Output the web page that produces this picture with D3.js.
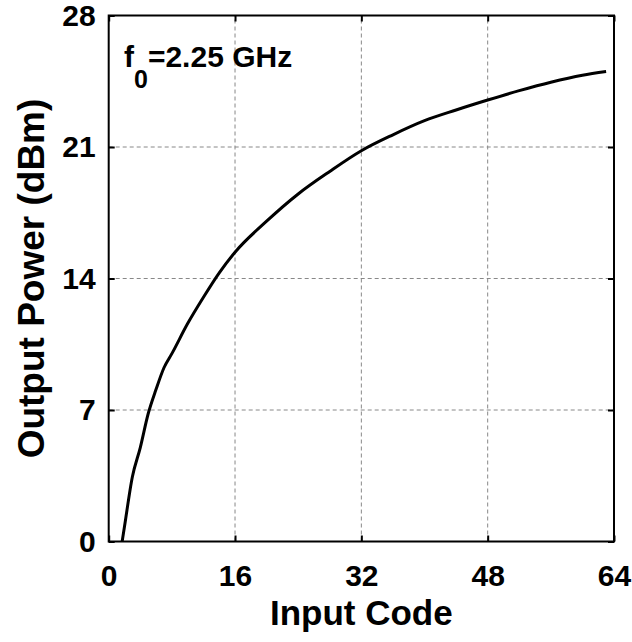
<!DOCTYPE html>
<html lang="en">
<meta charset="UTF-8">
<script src="https://d3js.org/d3.v7.min.js"></script>
<head>
    <title>Output Power vs Input Code</title>
    <style>
        body { margin: 0; background: white; }
        text { font-family: "Liberation Sans", Arial, sans-serif; font-weight: bold; fill: black; }
    </style>
</head>
<body>
<div id="my_dataviz"></div>
<script>
    const width = 632,
        height = 642;
    const margin = {top: 15.5, right: 18, bottom: 100.5, left: 108.7};

    // curve (input code -> dBm)
    const codes = [1, 2, 3, 4, 5, 6, 7, 8, 10, 12, 14, 16, 20, 24, 28, 32, 36, 40, 44, 48, 52, 56, 60, 63];
    const power = [-1.9, 0.8, 3.45, 5.0, 6.8, 8.1, 9.25, 10.0, 11.6, 13.0, 14.3, 15.4, 17.05, 18.5, 19.7, 20.8, 21.65, 22.4, 22.97, 23.5, 24.0, 24.45, 24.82, 25.02];
    const xTicks = [0, 16, 32, 48, 64];
    const yTicks = [0, 7, 14, 21, 28];

    const svg = d3.select("#my_dataviz")
        .append("svg")
        .attr("width", width)
        .attr("height", height);

    const x = d3.scaleLinear().domain([0, 64]).range([margin.left, width - margin.right]);
    const y = d3.scaleLinear().domain([0, 28]).range([height - margin.bottom, margin.top]);

    // dashed grid
    svg.append("g")
        .selectAll("line")
        .data(xTicks.slice(1, -1))
        .join("line")
        .attr("x1", d => x(d)).attr("x2", d => x(d))
        .attr("y1", y(0)).attr("y2", y(28))
        .attr("stroke", "#888").attr("stroke-width", 1).attr("stroke-dasharray", "4,3");
    svg.append("g")
        .selectAll("line")
        .data(yTicks.slice(1, -1))
        .join("line")
        .attr("y1", d => y(d)).attr("y2", d => y(d))
        .attr("x1", x(0)).attr("x2", x(64))
        .attr("stroke", "#888").attr("stroke-width", 1).attr("stroke-dasharray", "4,3");

    // clip the curve to the box
    svg.append("clipPath").attr("id", "clip")
        .append("rect")
        .attr("x", x(0)).attr("y", y(28))
        .attr("width", x(64) - x(0)).attr("height", y(0) - y(28));

    const line = d3.line()
        .x((d, i) => x(codes[i]))
        .y(d => y(d))
        .curve(d3.curveMonotoneX);

    svg.append("path")
        .datum(power)
        .attr("clip-path", "url(#clip)")
        .attr("d", line)
        .attr("fill", "none")
        .attr("stroke", "black")
        .attr("stroke-width", 3);

    // axes with inward ticks, on all four sides
    const xAxis = d3.axisBottom(x).tickValues(xTicks).tickSizeInner(-6).tickSizeOuter(0).tickPadding(23);
    const yAxis = d3.axisLeft(y).tickValues(yTicks).tickSizeInner(-6).tickSizeOuter(0).tickPadding(13);
    const xTop = d3.axisTop(x).tickValues(xTicks).tickSizeInner(-6).tickSizeOuter(0).tickFormat("");
    const yRight = d3.axisRight(y).tickValues(yTicks).tickSizeInner(-6).tickSizeOuter(0).tickFormat("");

    const gx = svg.append("g").attr("transform", `translate(0,${y(0)})`).call(xAxis);
    const gy = svg.append("g").attr("transform", `translate(${x(0)},0)`).call(yAxis);
    const gt = svg.append("g").attr("transform", `translate(0,${y(28)})`).call(xTop);
    const gr = svg.append("g").attr("transform", `translate(${x(64)},0)`).call(yRight);
    [gx, gy, gt, gr].forEach(g => {
        g.select(".domain").remove();
        g.selectAll(".tick line").attr("stroke", "black").attr("stroke-width", 2);
        g.selectAll(".tick text").attr("fill", "black").style("font-size", "30px")
            .style("font-family", "Liberation Sans, Arial, sans-serif").style("font-weight", "bold");
    });

    // box
    svg.append("rect")
        .attr("x", x(0)).attr("y", y(28))
        .attr("width", x(64) - x(0)).attr("height", y(0) - y(28))
        .attr("fill", "none").attr("stroke", "black").attr("stroke-width", 2);

    // labels
    svg.append("text")
        .attr("x", (x(0) + x(64)) / 2)
        .attr("y", 625)
        .attr("text-anchor", "middle")
        .style("font-size", "35px")
        .text("Input Code");

    svg.append("text")
        .attr("transform", `translate(44,${(y(0) + y(28)) / 2}) rotate(-90)`)
        .attr("text-anchor", "middle")
        .style("font-size", "37px")
        .text("Output Power (dBm)");

    const note = svg.append("text")
        .attr("x", 124)
        .attr("y", 67)
        .style("font-size", "30px");
    note.append("tspan").text("f");
    note.append("tspan").attr("dy", 21).style("font-size", "25px").text("0");
    note.append("tspan").attr("dy", -21).text("=2.25 GHz");
</script>
</body>
</html>
